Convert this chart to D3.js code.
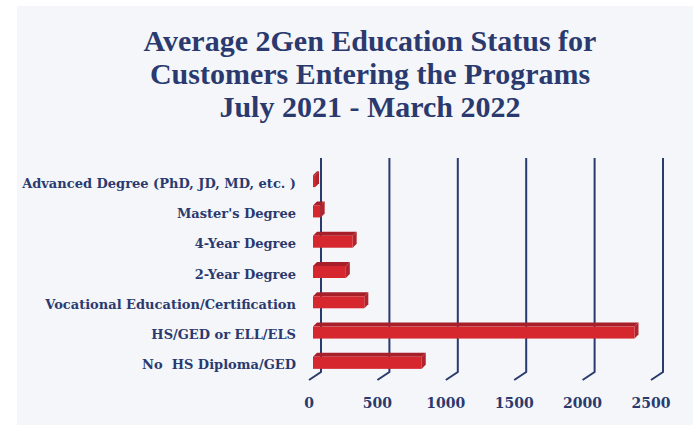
<!DOCTYPE html>
<html>
<head>
<meta charset="utf-8">
<script src="https://cdn.jsdelivr.net/npm/d3@7"></script>
<style>
  html, body { margin: 0; padding: 0; background: #fff; }
  svg { display: block; }
  .cat-label { white-space: pre; }
</style>
</head>
<body>
<svg id="chart" width="693" height="425"></svg>
<script>
// data
const categories = [
    "Advanced Degree (PhD, JD, MD, etc. )",
    "Master's Degree",
    "4-Year Degree",
    "2-Year Degree",
    "Vocational Education/Certification",
    "HS/GED or ELL/ELS",
    "No  HS Diploma/GED"
];
const values = [15, 56, 290, 240, 375, 2350, 795];
const tickValues = [0, 500, 1000, 1500, 2000, 2500];
const titleLines = [
    "Average 2Gen Education Status for",
    "Customers Entering the Programs",
    "July 2021 - March 2022"
];

const NAVY = "#2b3a6e";
const RED = "#d6262e";
const RED_TOP = "#a71f28";
const RED_SIDE = "#b3232b";

const svg = d3.select("#chart");

// panel background
svg.append("rect")
    .attr("x", 17).attr("y", 6)
    .attr("width", 676).attr("height", 419)
    .attr("fill", "#f4f6fa");

// title
svg.append("g")
    .selectAll("text")
    .data(titleLines)
    .enter().append("text")
    .attr("x", 370)
    .attr("y", (d, i) => 51 + i * 33)
    .attr("text-anchor", "middle")
    .attr("font-family", "'Liberation Serif', serif")
    .attr("font-weight", "bold")
    .attr("font-size", 30)
    .attr("fill", NAVY)
    .text(d => d);

// scales (back plane)
const x = d3.scaleLinear().domain([0, 2500]).range([321, 663]);
const y = d3.scaleBand().domain(categories).range([166, 378]).padding(0);

const gridTop = 158, gridBottom = 372;
const depthDx = -12, depthDy = 8;   // floor depth
const barShift = -8;                // bar front face vs back plane
const barH = 12, barDepth = 4;

// gridlines with 3D foot
const grid = svg.append("g");
tickValues.forEach(v => {
    grid.append("path")
        .attr("d", `M${x(v)},${gridTop}L${x(v)},${gridBottom}L${x(v) + depthDx},${gridBottom + depthDy}`)
        .attr("fill", "none")
        .attr("stroke", NAVY)
        .attr("stroke-width", 2);
});

// tick labels
svg.append("g")
    .selectAll("text")
    .data(tickValues)
    .enter().append("text")
    .attr("x", d => x(d) + depthDx)
    .attr("y", 408)
    .attr("text-anchor", "middle")
    .attr("font-family", "'DejaVu Serif', serif")
    .attr("font-weight", "bold")
    .attr("font-size", 14)
    .attr("fill", NAVY)
    .text(d => d);

// bars
const bars = svg.append("g")
    .selectAll("g")
    .data(categories.map((c, i) => ({ cat: c, value: values[i] })))
    .enter().append("g");

function geom(d) {
    const x0 = x(0) + barShift;
    const x1 = x(d.value) + barShift;
    const top = y(d.cat) + y.bandwidth() / 2 - barH / 2;
    return { x0, x1, top, bottom: top + barH };
}

bars.append("path")
    .attr("fill", RED_TOP)
    .attr("d", d => {
        const g = geom(d);
        return `M${g.x0},${g.top}L${g.x1},${g.top}L${g.x1 + barDepth},${g.top - barDepth}L${g.x0 + barDepth},${g.top - barDepth}Z`;
    });

bars.append("path")
    .attr("fill", RED_SIDE)
    .attr("d", d => {
        const g = geom(d);
        return `M${g.x1},${g.top}L${g.x1 + barDepth},${g.top - barDepth}L${g.x1 + barDepth},${g.bottom - barDepth}L${g.x1},${g.bottom}Z`;
    });

bars.append("rect")
    .attr("fill", RED)
    .attr("x", d => geom(d).x0)
    .attr("y", d => geom(d).top)
    .attr("width", d => geom(d).x1 - geom(d).x0)
    .attr("height", barH);

// category labels
svg.append("g")
    .selectAll("text")
    .data(categories)
    .enter().append("text")
    .attr("class", "cat-label")
    .attr("x", 296)
    .attr("y", d => y(d) + y.bandwidth() / 2 + 6.5)
    .attr("text-anchor", "end")
    .attr("font-family", "'DejaVu Serif', serif")
    .attr("font-weight", "bold")
    .attr("font-size", 13)
    .attr("fill", NAVY)
    .text(d => d);
</script>
</body>
</html>
